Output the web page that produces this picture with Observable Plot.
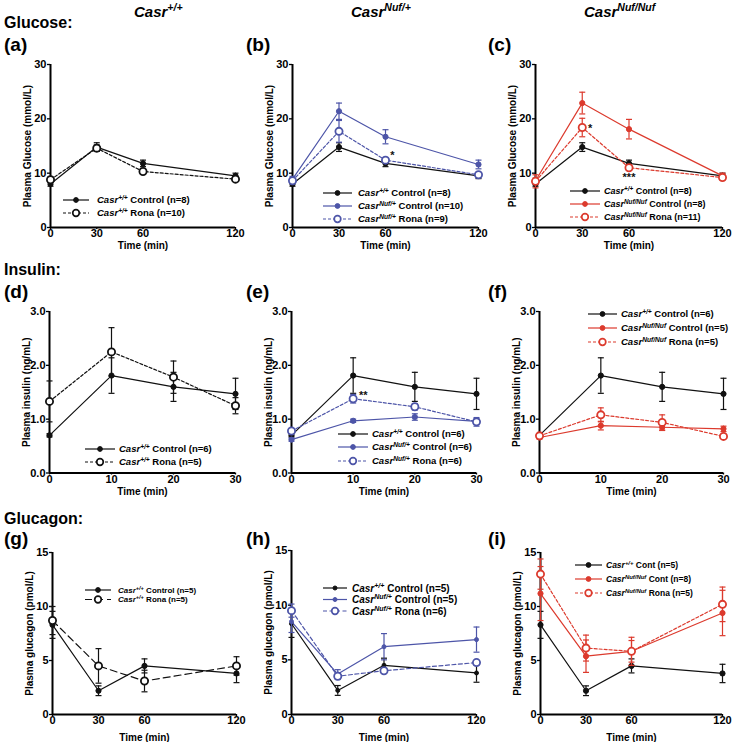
<!DOCTYPE html>
<html><head><meta charset="utf-8">
<script src="https://cdn.jsdelivr.net/npm/d3@7"></script>
<script src="https://cdn.jsdelivr.net/npm/@observablehq/plot@0.6"></script>
<style>
body{margin:0;background:#fff;}
#page{position:relative;width:733px;height:742px;overflow:hidden;font-family:"Liberation Sans",Arial,sans-serif;}
#page > svg{position:absolute;}
#page [aria-label="x-axis label"]{font-size:10px;}
#page [aria-label="y-axis label"]{font-size:10px;}
</style></head>
<body><div id="page"></div>
<script>
// ---------- data ----------
const timesGlucose = [0, 30, 60, 120];
const timesInsulin = [0, 10, 20, 30];
const timesGlucagon = [0, 30, 60, 120];

// Glucose (mmol/L), mean and SEM
const gluWtControl = [8.0, 14.8, 11.8, 9.5];
const gluWtControlSem = [0.4, 0.8, 0.6, 0.5];
const gluWtRona = [8.8, 14.6, 10.3, 8.9];
const gluWtRonaSem = [0.5, 0.6, 0.4, 0.4];
const gluHetControl = [8.9, 21.4, 16.7, 11.6];
const gluHetControlSem = [0.5, 1.5, 1.3, 0.8];
const gluHetRona = [8.6, 17.7, 12.4, 9.7];
const gluHetRonaSem = [0.5, 2.0, 0.4, 0.3];
const gluHomControl = [8.6, 22.9, 18.1, 9.5];
const gluHomControlSem = [0.5, 2.0, 1.8, 0.5];
const gluHomRona = [8.5, 18.4, 11.0, 9.2];
const gluHomRonaSem = [1.2, 1.7, 0.4, 0.4];

// Insulin (ng/mL)
const insWtControl = [0.70, 1.81, 1.60, 1.47];
const insWtControlSem = [0.03, 0.33, 0.27, 0.29];
const insWtRona = [1.33, 2.25, 1.78, 1.25];
const insWtRonaSem = [0.38, 0.45, 0.30, 0.15];
const insHetControl = [0.62, 0.97, 1.04, 0.96];
const insHetControlSem = [0.03, 0.03, 0.06, 0.05];
const insHetRona = [0.78, 1.38, 1.23, 0.95];
const insHetRonaSem = [0.04, 0.08, 0.06, 0.08];
const insHomControl = [0.66, 0.88, 0.85, 0.82];
const insHomControlSem = [0.03, 0.08, 0.06, 0.05];
const insHomRona = [0.69, 1.08, 0.94, 0.68];
const insHomRonaSem = [0.03, 0.13, 0.14, 0.03];

// Glucagon (pmol/L)
const gcgWtControl = [8.3, 2.2, 4.5, 3.8];
const gcgWtControlSem = [1.25, 0.45, 0.65, 0.85];
const gcgWtRona = [8.7, 4.5, 3.1, 4.5];
const gcgWtRonaSem = [1.3, 1.6, 1.0, 0.85];
const gcgHetControl = [8.5, 3.7, 6.2, 6.85];
const gcgHetControlSem = [1.0, 0.4, 1.2, 1.15];
const gcgHetRona = [9.5, 3.5, 4.0, 4.75];
const gcgHetRonaSem = [0.6, 0.3, 0.2, 0.2];
const gcgHomControl = [11.2, 5.4, 5.85, 9.4];
const gcgHomControlSem = [2.5, 1.5, 1.0, 2.1];
const gcgHomRona = [13.0, 6.15, 5.85, 10.2];
const gcgHomRonaSem = [1.4, 1.2, 1.3, 1.6];

// tick values
const glucoseTicks = [0, 10, 20, 30];
const insulinTicks = [0, 1, 2, 3];
const glucagonTicks = [0, 5, 10, 15];

// text
const columnHeads = [["Casr", "+/+"], ["Casr", "Nuf/+"], ["Casr", "Nuf/Nuf"]];
const sectionTitles = ["Glucose:", "Insulin:", "Glucagon:"];
const panelLetters = ["(a)", "(b)", "(c)", "(d)", "(e)", "(f)", "(g)", "(h)", "(i)"];
const yTitles = ["Plasma Glucose (mmol/L)", "Plasma insulin (ng/mL)", "Plasma glucagon (pmol/L)"];
const xTitle = "Time (min)";
const legendA = [["+/+", " Control (n=8)"], ["+/+", " Rona (n=10)"]];
const legendB = [["+/+", " Control (n=8)"], ["Nuf/+", " Control (n=10)"], ["Nuf/+", " Rona (n=9)"]];
const legendC = [["+/+", " Control (n=8)"], ["Nuf/Nuf", " Control (n=8)"], ["Nuf/Nuf", " Rona (n=11)"]];
const legendD = [["+/+", " Control (n=6)"], ["+/+", " Rona (n=5)"]];
const legendE = [["+/+", " Control (n=6)"], ["Nuf/+", " Control (n=6)"], ["Nuf/+", " Rona (n=6)"]];
const legendF = [["+/+", " Control (n=6)"], ["Nuf/Nuf", " Control (n=5)"], ["Nuf/Nuf", " Rona (n=5)"]];
const legendG = [["+/+", " Control (n=5)"], ["+/+", " Rona (n=5)"]];
const legendH = [["+/+", " Control (n=5)"], ["Nuf/+", " Control (n=5)"], ["Nuf/+", " Rona (n=6)"]];
const legendI = [["+/+", " Cont (n=5)"], ["Nuf/Nuf", " Cont (n=8)"], ["Nuf/Nuf", " Rona (n=5)"]];

// ---------- styles ----------
const BLACK = "#111111", BLUE = "#4d55a8", RED = "#dc3a2d";
const FONT = "Liberation Sans, Arial, sans-serif";
const solidB = {color: BLACK, dash: null, open: false};

const capSymbol = {draw(ctx, size) { const r = Math.sqrt(size / Math.PI); ctx.moveTo(-r, 0); ctx.lineTo(r, 0); }};

const panels = [
  {frame: [50, 235, 64, 227], times: timesGlucose, xmax: 120, ydomain: [0, 30], yticks: glucoseTicks, fmt: d3.format("d"), ylabel: yTitles[0], xlo: 21,
   series: [{v: gluWtControl, e: gluWtControlSem, ...solidB}, {v: gluWtRona, e: gluWtRonaSem, color: BLACK, dash: "3,2", open: true}],
   legend: {x1: 63, x2: 89, tx: 97, rows: [200, 213], fs: 9.5, labels: legendA}, stars: []},
  {frame: [292, 478, 64, 227], times: timesGlucose, xmax: 120, ydomain: [0, 30], yticks: glucoseTicks, fmt: d3.format("d"), ylabel: yTitles[0], xlo: 21,
   series: [{v: gluWtControl, e: gluWtControlSem, ...solidB}, {v: gluHetControl, e: gluHetControlSem, color: BLUE, dash: null, open: false}, {v: gluHetRona, e: gluHetRonaSem, color: BLUE, dash: "3,2", open: true}],
   legend: {x1: 323, x2: 352, tx: 358, rows: [193, 206, 219], fs: 9.5, labels: legendB}, stars: [{s: 2, i: 2, text: "*", dx: 7, dy: -5}]},
  {frame: [535, 722, 64, 227], times: timesGlucose, xmax: 120, ydomain: [0, 30], yticks: glucoseTicks, fmt: d3.format("d"), ylabel: yTitles[0], xlo: 21,
   series: [{v: gluWtControl, e: gluWtControlSem, ...solidB}, {v: gluHomControl, e: gluHomControlSem, color: RED, dash: null, open: false}, {v: gluHomRona, e: gluHomRonaSem, color: RED, dash: "3,2", open: true}],
   legend: {x1: 570, x2: 600, tx: 604, rows: [191, 204, 217], fs: 9, labels: legendC}, stars: [{s: 2, i: 1, text: "*", dx: 8, dy: 1}, {s: 2, i: 2, text: "***", dx: 0, dy: 10}]},
  {frame: [49, 235, 311, 472.5], times: timesInsulin, xmax: 30, ydomain: [0, 3], yticks: insulinTicks, fmt: d3.format(".1f"), ylabel: yTitles[1], xlo: 22,
   series: [{v: insWtControl, e: insWtControlSem, ...solidB}, {v: insWtRona, e: insWtRonaSem, color: BLACK, dash: "3,2", open: true}],
   legend: {x1: 85, x2: 115, tx: 119, rows: [449, 462], fs: 9.5, labels: legendD}, stars: []},
  {frame: [291, 476, 311, 472.5], times: timesInsulin, xmax: 30, ydomain: [0, 3], yticks: insulinTicks, fmt: d3.format(".1f"), ylabel: yTitles[1], xlo: 22,
   series: [{v: insWtControl, e: insWtControlSem, ...solidB}, {v: insHetControl, e: insHetControlSem, color: BLUE, dash: null, open: false}, {v: insHetRona, e: insHetRonaSem, color: BLUE, dash: "3,2", open: true}],
   legend: {x1: 338, x2: 368, tx: 372, rows: [434, 447, 461], fs: 9.5, labels: legendE}, stars: [{s: 2, i: 1, text: "**", dx: 10, dy: -3}]},
  {frame: [539, 723, 311, 472.5], times: timesInsulin, xmax: 30, ydomain: [0, 3], yticks: insulinTicks, fmt: d3.format(".1f"), ylabel: yTitles[1], xlo: 22,
   series: [{v: insWtControl, e: insWtControlSem, ...solidB}, {v: insHomControl, e: insHomControlSem, color: RED, dash: null, open: false}, {v: insHomRona, e: insHomRonaSem, color: RED, dash: "3,2", open: true}],
   legend: {x1: 588, x2: 617, tx: 621, rows: [314, 328, 342], fs: 9.5, labels: legendF}, stars: []},
  {frame: [52, 236, 552, 714], times: timesGlucagon, xmax: 120, ydomain: [0, 15], yticks: glucagonTicks, fmt: d3.format("d"), ylabel: yTitles[2], xlo: 26,
   series: [{v: gcgWtControl, e: gcgWtControlSem, ...solidB}, {v: gcgWtRona, e: gcgWtRonaSem, color: BLACK, dash: "7,4", open: true}],
   legend: {x1: 85, x2: 111, tx: 118, rows: [590, 599.5], fs: 8, labels: legendG}, stars: []},
  {frame: [291, 476, 550, 714], times: timesGlucagon, xmax: 120, ydomain: [0, 15], yticks: glucagonTicks, fmt: d3.format("d"), ylabel: yTitles[2], xlo: 26,
   series: [{v: gcgWtControl, e: gcgWtControlSem, ...solidB, r: 2}, {v: gcgHetControl, e: gcgHetControlSem, color: BLUE, dash: null, open: false, r: 2}, {v: gcgHetRona, e: gcgHetRonaSem, color: BLUE, dash: "4,2.5", open: true}],
   legend: {x1: 323, x2: 347, tx: 352, rows: [588, 599.5, 611], fs: 10, labels: legendH}, stars: []},
  {frame: [540, 722, 552, 714], times: timesGlucagon, xmax: 120, ydomain: [0, 15], yticks: glucagonTicks, fmt: d3.format("d"), ylabel: yTitles[2], xlo: 26,
   series: [{v: gcgWtControl, e: gcgWtControlSem, ...solidB}, {v: gcgHomControl, e: gcgHomControlSem, color: RED, dash: null, open: false}, {v: gcgHomRona, e: gcgHomRonaSem, color: RED, dash: "3,2", open: true}],
   legend: {x1: 575, x2: 602, tx: 606, rows: [565, 579, 593], fs: 8.5, labels: legendI}, stars: []}
];

const page = document.getElementById("page");
const mL = 45, mR = 14, mT = 10, mB = 32;

panels.forEach((p) => {
  const [x0, x1, yT, yB] = p.frame;
  const idx = d3.range(p.times.length);
  const X = (i) => p.times[i];
  const marks = [
    Plot.ruleY([p.ydomain[0]], {stroke: "#000", strokeWidth: 2}),
    Plot.ruleX([0], {stroke: "#000", strokeWidth: 2}),
    Plot.axisX({ticks: p.times, tickSize: 2, tickPadding: 0, fontSize: 11, fontWeight: "bold", strokeWidth: 1.3,
                label: xTitle, labelAnchor: "center", labelOffset: p.xlo, labelArrow: "none"}),
    Plot.axisY({ticks: p.yticks, tickFormat: p.fmt, tickSize: 3, tickPadding: 1, fontSize: 11, fontWeight: "bold", strokeWidth: 1.3,
                label: p.ylabel, labelAnchor: "center", labelOffset: 27, labelArrow: "none"})
  ];
  p.series.forEach((s) => {
    const lo = (i) => s.v[i] - s.e[i], hi = (i) => s.v[i] + s.e[i];
    marks.push(Plot.ruleX(idx, {x: X, y1: lo, y2: hi, stroke: s.color, strokeWidth: 1.2}));
    marks.push(Plot.dot(idx, {x: X, y: lo, r: 3, symbol: capSymbol, stroke: s.color, fill: "none", strokeWidth: 1.2}));
    marks.push(Plot.dot(idx, {x: X, y: hi, r: 3, symbol: capSymbol, stroke: s.color, fill: "none", strokeWidth: 1.2}));
    marks.push(Plot.line(idx, {x: X, y: (i) => s.v[i], stroke: s.color, strokeWidth: 1.2, strokeDasharray: s.dash || undefined}));
    marks.push(Plot.dot(idx, {x: X, y: (i) => s.v[i], r: s.open ? 3.6 : (s.r || 2.6), fill: s.open ? "#fff" : s.color,
                              stroke: s.color, strokeWidth: s.open ? 1.8 : 1}));
  });
  p.stars.forEach((st) => {
    const s = p.series[st.s];
    marks.push(Plot.text([st.i], {x: X, y: (i) => s.v[i], text: () => st.text, dx: st.dx, dy: st.dy,
                                  fontSize: 11, fontWeight: "bold", fill: BLACK}));
  });
  const svg = Plot.plot({
    width: x1 - x0 + mL + mR,
    height: yB - yT + mT + mB,
    marginLeft: mL, marginRight: mR, marginTop: mT, marginBottom: mB,
    x: {domain: [0, p.xmax]},
    y: {domain: p.ydomain},
    style: {fontFamily: FONT, background: "transparent", overflow: "visible", color: "#000"},
    marks
  });
  svg.style.left = (x0 - mL) + "px";
  svg.style.top = (yT - mT) + "px";
  page.appendChild(svg);
});

// ---------- overlay: titles, panel letters, legends ----------
const ov = d3.select(page).append("svg").attr("width", 733).attr("height", 742)
  .style("left", "0px").style("top", "0px").style("font-family", FONT).style("pointer-events", "none");

const headX = [134, 351, 584];
columnHeads.forEach((h, k) => {
  const t = ov.append("text").attr("x", headX[k]).attr("y", 17).attr("font-size", 15)
    .attr("font-weight", "bold").attr("font-style", "italic");
  t.append("tspan").text(h[0]);
  t.append("tspan").attr("dy", -6).attr("font-size", 10.5).text(h[1]);
});
const secY = [28, 275, 524];
sectionTitles.forEach((s, k) => {
  ov.append("text").attr("x", 4).attr("y", secY[k]).attr("font-size", 16).attr("font-weight", "bold").text(s);
});
const letterX = [4, 246, 488], letterY = [51, 298, 545];
panelLetters.forEach((l, k) => {
  ov.append("text").attr("x", letterX[k % 3]).attr("y", letterY[Math.floor(k / 3)])
    .attr("font-size", 19).attr("font-weight", "bold").text(l);
});

panels.forEach((p) => {
  const L = p.legend;
  p.series.forEach((s, j) => {
    const y = L.rows[j];
    ov.append("line").attr("x1", L.x1).attr("x2", L.x2).attr("y1", y).attr("y2", y)
      .attr("stroke", s.color).attr("stroke-width", 1.2).attr("stroke-dasharray", s.dash || null);
    ov.append("circle").attr("cx", (L.x1 + L.x2) / 2).attr("cy", y).attr("r", s.open ? 3.3 : (s.r || 2.4))
      .attr("fill", s.open ? "#fff" : s.color).attr("stroke", s.color).attr("stroke-width", s.open ? 1.7 : 1);
    const lab = L.labels[j];
    const t = ov.append("text").attr("x", L.tx).attr("y", y + L.fs * 0.36).attr("font-size", L.fs).attr("font-weight", "bold");
    t.append("tspan").attr("font-style", "italic").text("Casr");
    t.append("tspan").attr("dy", -L.fs * 0.38).attr("font-size", L.fs * 0.7).attr("font-style", "italic").text(lab[0]);
    t.append("tspan").attr("dy", L.fs * 0.38).text(lab[1]);
  });
});
</script>
</body></html>
